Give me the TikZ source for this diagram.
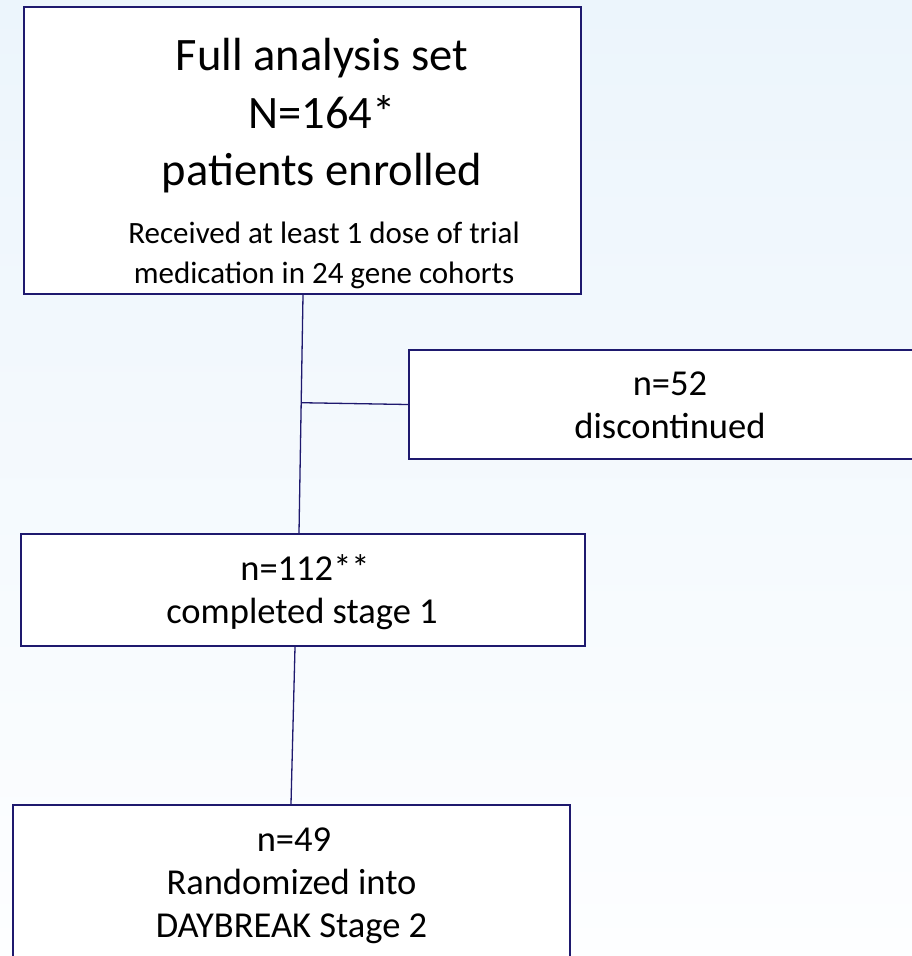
\documentclass[tikz,border=0pt]{standalone}
\usepackage{fontspec}
\setmainfont{Carlito}
\usetikzlibrary{calc}
\definecolor{navy}{RGB}{30,25,110}
\definecolor{bgtop}{RGB}{236,245,252}
\definecolor{bgbot}{RGB}{253,254,255}
\begin{document}
\begin{tikzpicture}[x=1pt,y=-1pt,
  box/.style={draw=navy,line width=2.4pt,fill=white,rectangle,inner sep=0pt},
  conn/.style={draw=navy,line width=1.3pt},
  bigtxt/.style={font=\fontsize{46.5}{55}\selectfont,inner sep=0pt,anchor=base},
  smalltxt/.style={font=\fontsize{31}{37}\selectfont,inner sep=0pt,anchor=base},
  midtxt/.style={font=\fontsize{36.5}{43}\selectfont,inner sep=0pt,anchor=base}]
\useasboundingbox (0,0) rectangle (912,956);
\shade[top color=bgtop,bottom color=bgbot] (0,0) rectangle (912,956);
\clip (0,0) rectangle (912,956);
% boxes
\node[box,minimum width=557pt,minimum height=287pt] (b1) at (302.5,150.5) {};
\node[box,minimum width=521pt,minimum height=109pt] (d) at (669.5,404.5) {};
\node[box,minimum width=564pt,minimum height=112pt] (b2) at (303,590) {};
\node[box,minimum width=557pt,minimum height=170pt] (b3) at (291.5,890) {};
% texts
\node[bigtxt] (t1a) at (322,70) {Full analysis set};
\node[bigtxt] (t1b) at (322,128) {N=164*};
\node[bigtxt] (t1c) at (322,185) {patients enrolled};
\node[smalltxt] (t1d) at (324,243) {Received at least 1 dose of trial};
\node[smalltxt] (t1e) at (324,283) {medication in 24 gene cohorts};
\node[midtxt] (tda) at (670,395) {n=52};
\node[midtxt] (tdb) at (670,438) {discontinued};
\node[midtxt] (t2a) at (305,580) {n=112**};
\node[midtxt] (t2b) at (302,623) {completed stage 1};
\node[midtxt] (t3a) at (294,851) {n=49};
\node[midtxt] (t3b) at (291.5,894) {Randomized into};
\node[midtxt] (t3c) at (291.5,937) {DAYBREAK Stage 2};
% connectors
\path ([xshift=0.5pt]b1.south) coordinate (l1a) ([xshift=-4pt]b2.north) coordinate (l1b);
\draw[conn] (l1a) -- (l1b);
\draw[conn] ($(l1a)!(d.west)!(l1b)$) -- (d.west);
\draw[conn] ([xshift=-8pt]b2.south) -- ([xshift=-0.5pt]b3.north);
\end{tikzpicture}
\end{document}
